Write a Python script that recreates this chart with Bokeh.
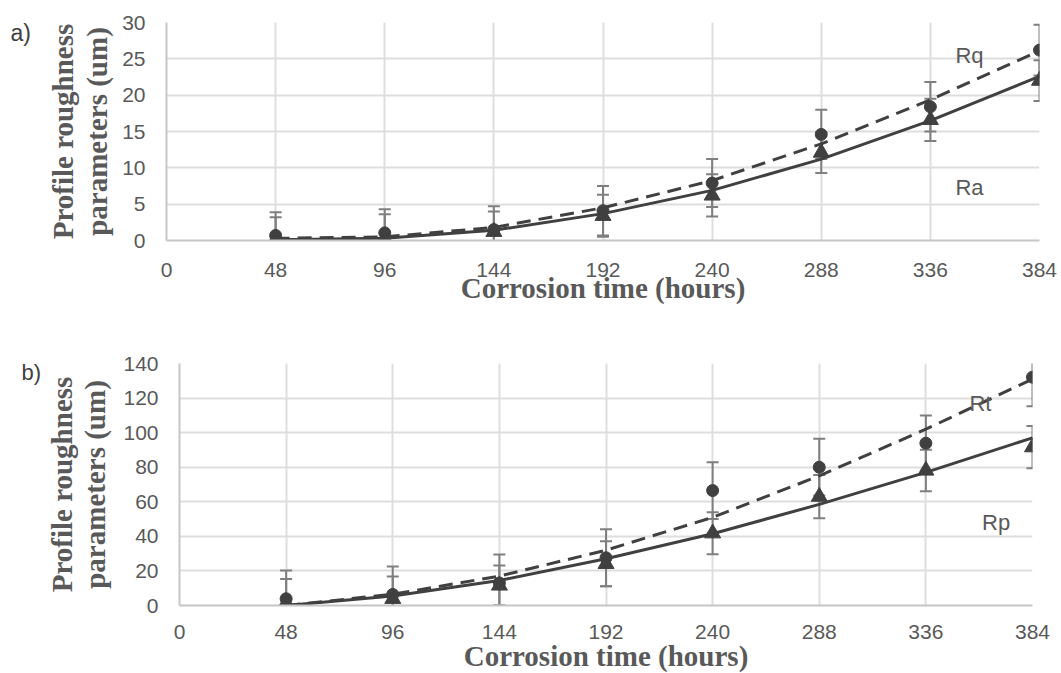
from bokeh.plotting import figure
from bokeh.layouts import column, row
from bokeh.models import Range1d, FixedTicker, Label, ColumnDataSource
from bokeh.embed import file_html
from bokeh.resources import INLINE

# ---------------- data ----------------
hours = [48, 96, 144, 192, 240, 288, 336, 384]
x_ticks = [0, 48, 96, 144, 192, 240, 288, 336, 384]

# panel a)
rq = [0.7, 1.05, 1.5, 4.1, 7.9, 14.6, 18.4, 26.2]
rq_err = [3.2, 3.25, 3.2, 3.4, 3.3, 3.4, 3.4, 3.5]
ra = [0.2, 0.3, 1.2, 3.4, 6.2, 12.1, 16.6, 22.0]
ra_err = [3.0, 3.3, 2.8, 2.9, 2.9, 2.8, 2.9, 2.8]
rq_trend = [0.3, 0.5, 1.8, 4.5, 8.25, 13.3, 19.35, 26.1]
ra_trend = [0.1, 0.3, 1.4, 3.7, 6.9, 11.2, 16.5, 22.6]
a_y_ticks = [0, 5, 10, 15, 20, 25, 30]

# panel b)
rt = [3.9, 6.4, 13.0, 27.6, 66.5, 80.0, 93.9, 132.1]
rt_err = [16.3, 16.2, 16.5, 16.5, 16.4, 16.4, 16.0, 16.9]
rp = [1.5, 3.9, 11.6, 24.1, 41.8, 63.0, 78.1, 91.6]
rp_err = [13.9, 12.9, 11.5, 13.0, 12.2, 12.5, 12.0, 12.2]
rt_trend = [0.0, 6.5, 17.0, 32.0, 51.0, 75.0, 102.0, 131.0]
rp_trend = [0.0, 5.5, 14.5, 27.0, 41.5, 58.5, 77.0, 97.0]
b_y_ticks = [0, 20, 40, 60, 80, 100, 120, 140]

x_title = "Corrosion time (hours)"
y_title = "Profile roughness\nparameters (um)"
tags = ["a)", "b)"]

MARK = "#404040"
ERR = "#7f7f7f"
TXT = "#595959"
GRID = "#dedede"
AXIS = "#c6c6c6"


def make_tag(text, w, h, tx, ty, fs):
    t = figure(width=w, height=h, x_range=Range1d(0, w), y_range=Range1d(0, h),
               x_axis_type=None, y_axis_type=None, output_backend="svg",
               toolbar_location=None, min_border=0,
               background_fill_color="white", border_fill_color="white")
    t.frame_align = False
    t.outline_line_color = None
    t.grid.visible = False
    t.add_layout(Label(x=tx, y=ty, text=text, text_font="Liberation Sans",
                       text_font_size=fs, text_color="#404040",
                       text_align="left", text_baseline="alphabetic"))
    return t


def make_panel(ymax, yticks, s_circ, e_circ, s_tri, e_tri, t_circ, t_tri,
               lab_circ, lab_tri, frame_w, frame_h, bl, br, bt, bb,
               xstand, xlabstand, ylabstand):
    p = figure(frame_width=frame_w, frame_height=frame_h,
               min_border_left=bl, min_border_right=br,
               min_border_top=bt, min_border_bottom=bb,
               x_range=Range1d(0, 384), y_range=Range1d(0, ymax),
               output_backend="svg", toolbar_location=None,
               background_fill_color="white", border_fill_color="white")
    p.frame_align = False
    p.outline_line_color = None
    p.xaxis.ticker = FixedTicker(ticks=x_ticks)
    p.yaxis.ticker = FixedTicker(ticks=yticks)
    for ax in (p.xaxis, p.yaxis):
        ax.major_tick_line_color = None
        ax.minor_tick_line_color = None
        ax.major_tick_out = 0
        ax.major_tick_in = 0
        ax.axis_line_color = AXIS
        ax.axis_line_width = 2
        ax.major_label_text_font = "Liberation Sans"
        ax.major_label_text_font_size = "21px"
        ax.major_label_text_color = TXT
        ax.axis_label_text_font = "Liberation Serif"
        ax.axis_label_text_font_style = "bold"
        ax.axis_label_text_font_size = "29px"
        ax.axis_label_text_color = TXT
        ax.axis_label_text_line_height = 1.06
    p.xaxis.major_label_standoff = xstand
    p.yaxis.major_label_standoff = 21
    p.xaxis.axis_label = x_title
    p.yaxis.axis_label = y_title
    p.xaxis.axis_label_standoff = xlabstand
    p.yaxis.axis_label_standoff = ylabstand
    p.grid.grid_line_color = GRID
    p.grid.grid_line_width = 2

    # error bars
    for vals, errs in ((s_circ, e_circ), (s_tri, e_tri)):
        lo = [v - e for v, e in zip(vals, errs)]
        hi = [v + e for v, e in zip(vals, errs)]
        src = ColumnDataSource(dict(x=hours, lo=lo, hi=hi))
        p.segment(x0="x", y0="lo", x1="x", y1="hi", source=src,
                  line_color=ERR, line_width=2)
        p.scatter(x="x", y="lo", source=src, marker="dash", size=12,
                  line_color=ERR, line_width=2)
        p.scatter(x="x", y="hi", source=src, marker="dash", size=12,
                  line_color=ERR, line_width=2)

    # trend lines
    p.line(hours, t_circ, line_color=MARK, line_width=3, line_dash="14 8")
    p.line(hours, t_tri, line_color=MARK, line_width=3)

    # markers
    p.scatter(hours, s_circ, marker="circle", size=12,
              fill_color=MARK, line_color=MARK)
    p.scatter(hours, s_tri, marker="triangle", size=16,
              fill_color=MARK, line_color=MARK)

    for (txt, x, y) in (lab_circ, lab_tri):
        p.add_layout(Label(x=x, y=y, text=txt, text_font="Liberation Sans",
                           text_font_size="22px", text_color=TXT,
                           text_align="left", text_baseline="alphabetic"))
    return p


TAG_A_W = 40
TAG_B_W = 41

pa = make_panel(30, a_y_ticks, rq, rq_err, ra, ra_err, rq_trend, ra_trend,
                ("Rq", 347, 25.5), ("Ra", 347, 7.3),
                873, 218, 166 - TAG_A_W, 21, 22, 72, 22, -8, 6)
pb = make_panel(140, b_y_ticks, rt, rt_err, rp, rp_err, rt_trend, rp_trend,
                ("Rt", 355.6, 117), ("Rp", 361.3, 48.2),
                853, 242, 179 - TAG_B_W, 28, 51, 68, 19, -2, 9)

# tag figures (small text-only canvases left of each panel)
ta = make_tag(tags[0], TAG_A_W, 80, 10, 48, "23px")
tb = make_tag(tags[1], TAG_B_W, 110, 21, 50, "22px")

layout = column(row(ta, pa, spacing=0), row(tb, pb, spacing=0), spacing=0)
open("out.html", "w").write(file_html(layout, INLINE))
